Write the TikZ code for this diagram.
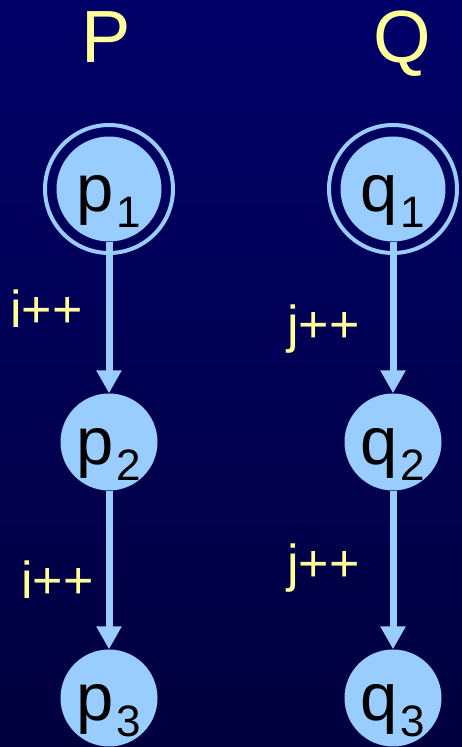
\documentclass[tikz,border=0pt]{standalone}
\usepackage{fontspec}
\setmainfont{Liberation Sans}
\usetikzlibrary{arrows.meta}
\definecolor{navytop}{RGB}{0,0,104}
\definecolor{navybot}{RGB}{0,0,62}
\definecolor{stateblue}{RGB}{153,204,255}
\definecolor{labelyellow}{RGB}{255,255,153}
\newcommand{\idx}[1]{\kern3pt\raisebox{-16pt}{\fontsize{44}{44}\selectfont #1}}
\begin{document}
\begin{tikzpicture}[x=1pt,y=1pt,
  state/.style={circle, fill=stateblue, inner sep=0pt, minimum size=97pt,
    text height=46pt, text depth=0pt, font=\fontsize{67}{67}\selectfont},
  startstate/.style={state, minimum size=105pt},
  ring/.style={draw=stateblue, line width=4pt},
  trans/.style={draw=stateblue, line width=7pt, -{Triangle[width=24pt,length=23pt]}},
  proc/.style={text=labelyellow, anchor=base west, inner sep=0pt, font=\fontsize{74}{74}\selectfont},
  incr/.style={text=labelyellow, anchor=base west, inner sep=0pt, font=\fontsize{52}{52}\selectfont}]
\shade[top color=navytop, bottom color=navybot] (0,0) rectangle (462,747);
\useasboundingbox (0,0) rectangle (462,747);
% process names
\node[proc] (P) at (81,684) {P};
\node[proc] (Q) at (373,684) {Q};
% states of P
\node[startstate] (p1) at (109,558) {p\idx{1}};
\draw[ring] (p1) circle (64);
\node[state] (p2) at (109,305) {p\idx{2}};
\node[state] (p3) at (109,49) {p\idx{3}};
% states of Q
\node[startstate] (q1) at (393,558) {q\idx{1}};
\draw[ring] (q1) circle (64);
\node[state] (q2) at (393,305) {q\idx{2}};
\node[state] (q3) at (393,49) {q\idx{3}};
% transitions
\draw[trans] (p1.south) -- (p2.north);
\draw[trans] (p2.south) -- (p3.north);
\draw[trans] (q1.south) -- (q2.north);
\draw[trans] (q2.south) -- (q3.north);
\node[incr] (ip1) at (10,419) {i++};
\node[incr] (ip2) at (21,148) {i++};
\node[incr] (jq1) at (287,404) {j++};
\node[incr] (jq2) at (287,165) {j++};
\end{tikzpicture}
\end{document}
